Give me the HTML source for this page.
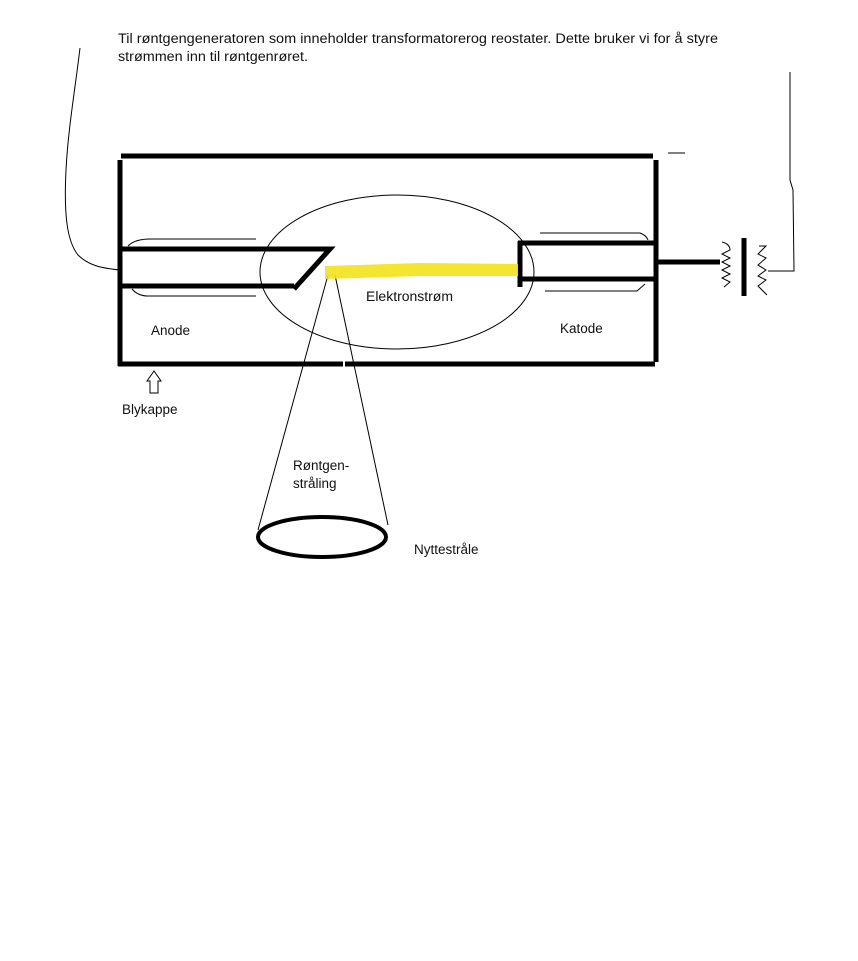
<!DOCTYPE html>
<html><head><meta charset="utf-8"><style>
body{margin:0;background:#fff;width:858px;height:961px;overflow:hidden}
svg{display:block}
text{font-family:"Liberation Sans",sans-serif;font-size:13.5px;fill:#111}
</style></head><body>
<svg width="858" height="961" viewBox="0 0 858 961">
<text x="118" y="43" textLength="600" lengthAdjust="spacingAndGlyphs">Til røntgengeneratoren som inneholder transformatorerog reostater. Dette bruker vi for å styre</text>
<text x="118" y="61" textLength="190" lengthAdjust="spacingAndGlyphs">strømmen inn til røntgenrøret.</text>
<g fill="none" stroke="#000">
<path d="M80 48 C75 90 68 130 66 170 C64 210 66 240 78 255 C88 265 100 268 120 270" stroke-width="1"/>
<path d="M790 72 L790 180 L793 190 L794 271 L768 271" stroke-width="1"/>
<path d="M668 153 L685 153" stroke-width="1"/>
<g stroke-width="5">
<path d="M121 156 L653 156"/>
<path d="M120 160 L120 366"/>
<path d="M118 364 L343 364 M345 364 L655 364"/>
<path d="M656 160 L656 362"/>
<path d="M120 249 L330 249 L294 289 M120 286 L294 286"/>
<path d="M518 243 L655 243 M518 279 L655 279 M520 241 L520 287"/>
<path d="M656 262 L720 262"/>
<path d="M744 238 L744 296"/>
</g>
<g stroke-width="1">
<ellipse cx="397" cy="272" rx="137" ry="77"/>
<path d="M128 246 Q135 239 150 239 L256 239 M132 289 Q138 296 148 296 L256 296"/>
<path d="M540 233 L640 233 Q646 235 648 240 M545 291 L637 291 L645 284"/>
<path d="M328 275 L258 530 M335 275 L388 525"/>
<path d="M722 242 Q730 244 730 250 L722 254 L730 258 L722 262 L730 266 L722 270 L730 274 L722 278 L730 282 L724 287"/>
<path d="M759 246 L766 246 L758 254 L766 258 L758 265 L766 270 L758 276 L766 280 L758 286 L767 295"/>
<path d="M147 381 L154 371 L161 381 L158 381 L158 393 L150 393 L150 381 Z"/>
</g>
<ellipse cx="322" cy="537" rx="64" ry="20" stroke-width="4"/>
</g>
<path d="M325 266 L420 263 L518 264 L518 276 L420 276 L325 279 Z" fill="#f2e21a" opacity="0.9"/>
<text x="366" y="301" textLength="87" lengthAdjust="spacingAndGlyphs">Elektronstrøm</text>
<text x="151" y="335">Anode</text>
<text x="560" y="333">Katode</text>
<text x="122" y="414">Blykappe</text>
<text x="293" y="470">Røntgen-</text>
<text x="293" y="488">stråling</text>
<text x="414" y="554">Nyttestråle</text>
</svg>
</body></html>
